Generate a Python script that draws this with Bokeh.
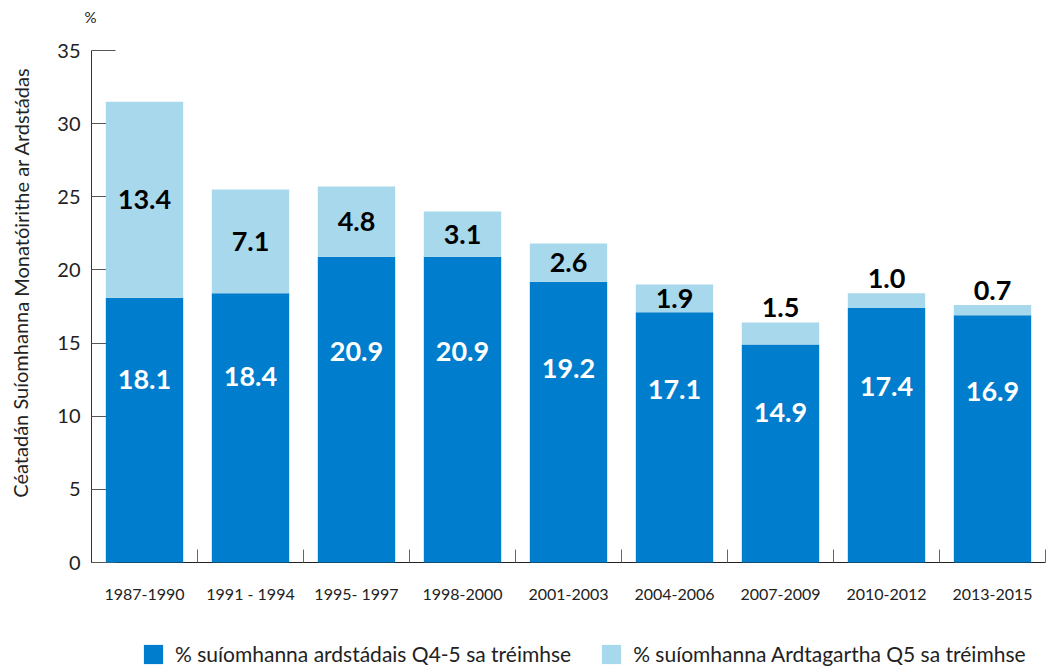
from bokeh.plotting import figure
from bokeh.layouts import column, row
from bokeh.models import Range1d, FixedTicker, Legend, LegendItem, ColumnDataSource, Label
from bokeh.core.properties import value
from bokeh.embed import file_html
from bokeh.resources import INLINE

periods = ["1987-1990", "1991 - 1994", "1995- 1997", "1998-2000", "2001-2003",
           "2004-2006", "2007-2009", "2010-2012", "2013-2015"]
q45 = [18.1, 18.4, 20.9, 20.9, 19.2, 17.1, 14.9, 17.4, 16.9]
q5 = [13.4, 7.1, 4.8, 3.1, 2.6, 1.9, 1.5, 1.0, 0.7]
y_ticks = [0, 5, 10, 15, 20, 25, 30, 35]
series_names = ["% suíomhanna ardstádais Q4-5 sa tréimhse",
                "% suíomhanna Ardtagartha Q5 sa tréimhse"]
y_title = "Céatadán Suíomhanna Monatóirithe ar Ardstádas"
unit_label = "%"

DARK = "#007DCC"
LIGHT = "#A8D8EC"
FONT = "Lato"
TXT = "#222222"

W, TOP_H, MAIN_H, LEG_H, LEFT_W = 1046, 30, 600, 38, 40
MAIN_TOP, MAIN_BOTTOM = 20, 68
FRAME_H = MAIN_H - MAIN_TOP - MAIN_BOTTOM


def strip(width, height, yspan):
    """A bare figure whose data units are screen pixels (y upwards)."""
    f = figure(width=width, height=height, output_backend="svg", toolbar_location=None,
               x_range=Range1d(0, width), y_range=Range1d(0, yspan), min_border=0,
               min_border_left=0, min_border_right=0, min_border_top=0, min_border_bottom=0,
               x_axis_location=None, y_axis_location=None)
    f.grid.visible = False
    f.outline_line_color = None
    return f


n = len(periods)
xs = [i + 0.5 for i in range(n)]
tops = [a + b for a, b in zip(q45, q5)]
src = ColumnDataSource(dict(
    x=xs, q45=q45, q5=q5, top=tops,
    dark_lab=[f"{v:.1f}" for v in q45],
    light_lab=[f"{v:.1f}" for v in q5],
    dark_y=[v * 0.69 for v in q45],
    light_y=[(a + b / 2) if b >= 1.8 else (a + b + 1.0) for a, b in zip(q45, q5)],
))

p = figure(width=W - LEFT_W, height=MAIN_H, output_backend="svg", toolbar_location=None,
           x_range=Range1d(0, n), y_range=Range1d(y_ticks[0], y_ticks[-1]),
           min_border_left=51, min_border_right=1, min_border_top=MAIN_TOP,
           min_border_bottom=MAIN_BOTTOM)
p.outline_line_color = None
p.xgrid.visible = False
p.ygrid.visible = False

r1 = p.vbar(x="x", top="q45", bottom=0, width=0.73, color=DARK, line_color=None, source=src)
r2 = p.vbar(x="x", top="top", bottom="q45", width=0.73, color=LIGHT, line_color=None, source=src)
t1 = p.text(x="x", y="dark_y", text="dark_lab", source=src, text_color="white",
            text_font=value(FONT), text_font_style="bold", text_font_size="27px",
            text_align="center", text_baseline="middle")
t2 = p.text(x="x", y="light_y", text="light_lab", source=src, text_color="black",
            text_font=value(FONT), text_font_style="bold", text_font_size="27px",
            text_align="center", text_baseline="middle")
for r in (r1, r2, t1, t2):
    r.level = "annotation"   # draw bars over the inward axis ticks

ya = p.yaxis[0]
ya.ticker = FixedTicker(ticks=y_ticks)
ya.axis_line_color = "#333333"
ya.major_tick_in = 24
ya.major_tick_out = 0
ya.major_tick_line_color = "#555555"
ya.minor_tick_line_color = None
ya.major_label_text_font = FONT
ya.major_label_text_font_size = "20px"
ya.major_label_text_color = TXT
ya.major_label_standoff = 11

xa = p.xaxis[0]
xa.ticker = FixedTicker(ticks=xs, minor_ticks=list(range(1, n + 1)))
xa.major_label_overrides = {x: lab for x, lab in zip(xs, periods)}
xa.axis_line_color = "#222222"
xa.major_tick_in = 0
xa.major_tick_out = 0
xa.minor_tick_in = 13
xa.minor_tick_out = 0
xa.minor_tick_line_color = "#666666"
xa.major_label_text_font = FONT
xa.major_label_text_font_size = "16px"
xa.major_label_text_color = TXT
xa.major_label_standoff = 21

# top strip with the unit sign
pt = strip(W, TOP_H, TOP_H)
pt.add_layout(Label(x=90, y=TOP_H - 16, text=unit_label, text_align="center",
                    text_baseline="middle", text_font=FONT, text_font_size="15px",
                    text_color=TXT))

# left strip with the rotated axis title (its frame is aligned to the main frame)
pleft = strip(LEFT_W, MAIN_H, FRAME_H)
pleft.add_layout(Label(x=20, y=280, text=y_title, angle=1.5707963,
                       text_align="center", text_baseline="middle", text_font=FONT,
                       text_font_size="20px", text_color=TXT))

# legend strip
pl = strip(W, LEG_H, LEG_H)
d1 = pl.vbar(x=[-50], top=[-50], width=1, color=DARK, line_color=None)
d2 = pl.vbar(x=[-50], top=[-50], width=1, color=LIGHT, line_color=None)
legend = Legend(items=[LegendItem(label=series_names[0], renderers=[d1]),
                       LegendItem(label=series_names[1], renderers=[d2])],
                location=(141, 2), orientation="horizontal",
                glyph_width=24, glyph_height=24, label_standoff=10, spacing=28,
                padding=0, margin=0, border_line_color=None, background_fill_alpha=0,
                label_text_font=FONT, label_text_font_size="21px", label_text_color=TXT)
pl.add_layout(legend, "center")

layout = column(pt, row(pleft, p, spacing=0), pl, spacing=0)
open("out.html", "w").write(file_html(layout, INLINE))
